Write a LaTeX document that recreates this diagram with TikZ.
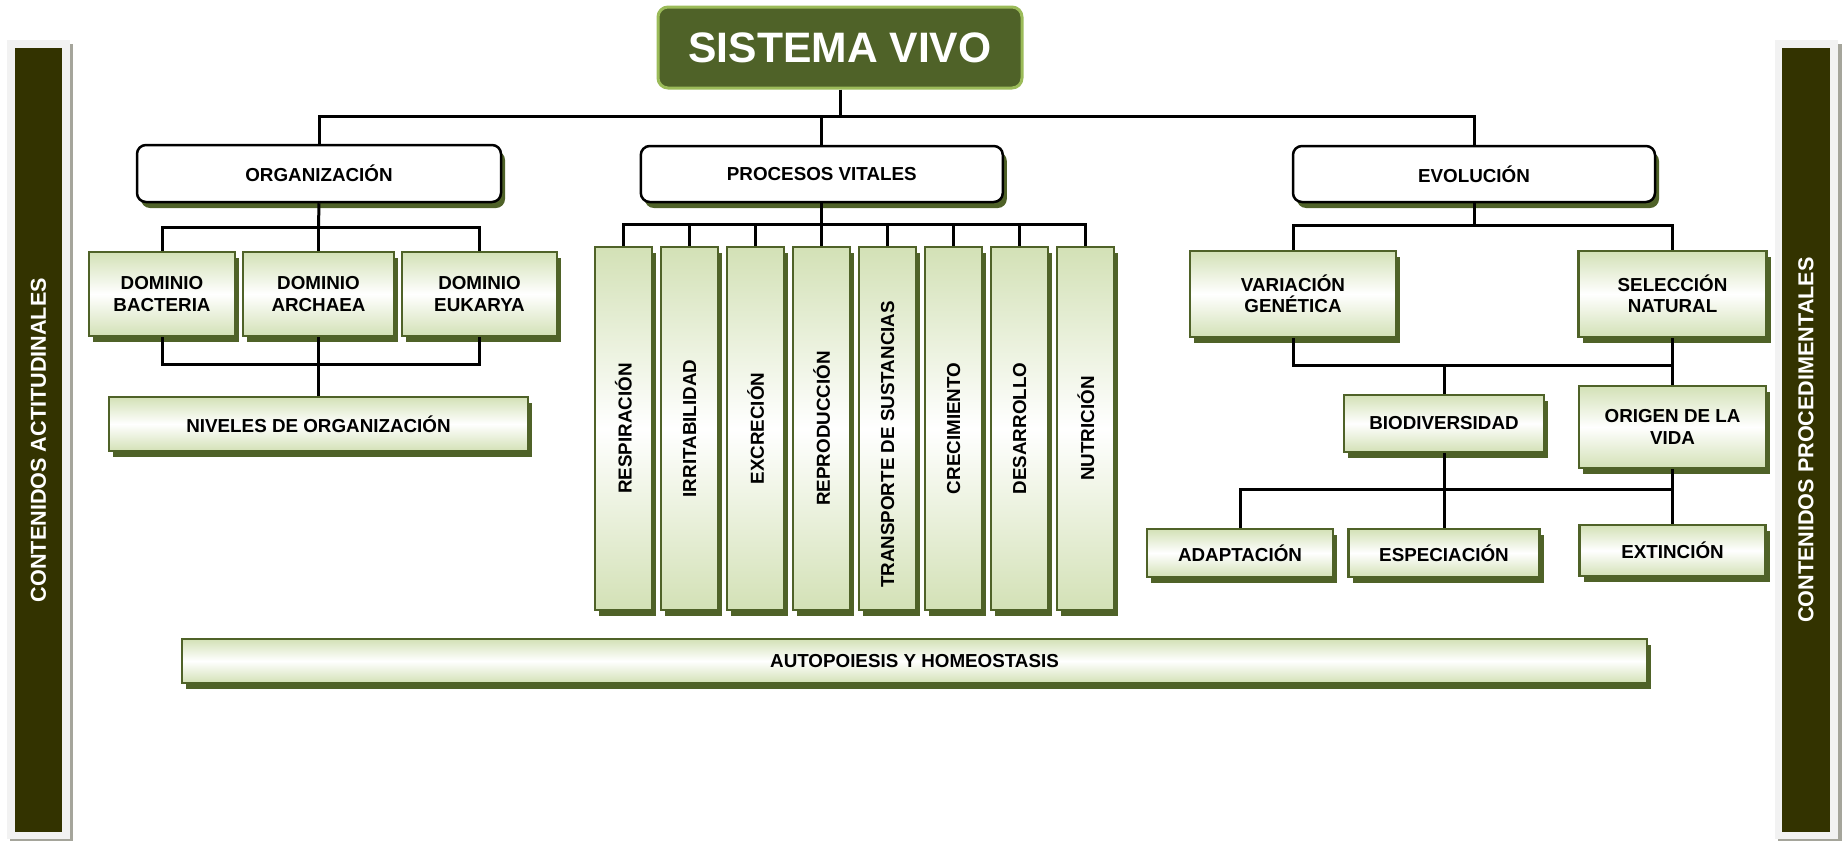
\documentclass[tikz,border=0pt]{standalone}
\usepackage{fontspec}
\setmainfont{Liberation Sans}
\usetikzlibrary{shadows}
\definecolor{dkgreen}{HTML}{4F6228}
\definecolor{ltgreen}{HTML}{D3E1B6}
\definecolor{ttlborder}{HTML}{9BBB59}
\definecolor{barcol}{HTML}{333300}
\definecolor{bargray}{HTML}{F2F2F2}
\definecolor{barshadow}{HTML}{A5A59B}
\newcommand\lbl{\bfseries\fontsize{18.8}{21.5}\selectfont}
\newcommand\sidelbl{\bfseries\fontsize{21.6}{24}\selectfont}
\tikzset{
  sz/.style 2 args={minimum width=#1pt, minimum height=#2pt},
  gbox/.style={draw=dkgreen, line width=2.4pt, top color=ltgreen, bottom color=ltgreen,
    middle color=white, inner sep=0pt, align=center, font=\lbl,
    drop shadow={shadow xshift=4pt, shadow yshift=-6pt, fill=dkgreen, opacity=1}},
  wbox/.style={draw=black, line width=2.5pt, fill=white, rounded corners=9pt,
    inner sep=0pt, align=center, font=\lbl,
    drop shadow={shadow xshift=4pt, shadow yshift=-6pt, fill=dkgreen, opacity=1}},
  vlbl/.style={rotate=90, font=\lbl, inner sep=0pt},
  sidebar/.style={fill=barcol, inner sep=0pt},
  sidetxt/.style={rotate=90, font=\sidelbl, text=white, inner sep=0pt},
  conn/.style={line width=3pt, draw=black},
}
\begin{document}
\begin{tikzpicture}[x=1pt, y=-1pt]
\useasboundingbox (0,0) rectangle (1842,841);

% side bars
\fill[barshadow] (10,44) rectangle (73,841);
\fill[bargray] (7,40) rectangle (70,839);
\node[sidebar, sz={47}{784}] (lbar) at (38.5,440) {};
\node[sidetxt] (ltxt) at (lbar.center) {CONTENIDOS ACTITUDINALES};
\fill[barshadow] (1778,44) rectangle (1842,841);
\fill[bargray] (1775,40) rectangle (1838,839);
\node[sidebar, sz={48}{784}] (rbar) at (1806,440) {};
\node[sidetxt] (rtxt) at (rbar.center) {CONTENIDOS PROCEDIMENTALES};

% title
\node[draw=ttlborder, line width=3pt, fill=dkgreen, rounded corners=10pt, sz={364}{81},
  text=white, font=\bfseries\fontsize{42.6}{45}\selectfont, inner sep=0pt]
  (title) at (840,47.5) {SISTEMA VIVO};

% level 1
\node[wbox, sz={364}{57}] (org) at (319,173.5) {ORGANIZACIÓN};
\node[wbox, sz={362}{56}] (proc) at (821.8,174) {PROCESOS VITALES};
\node[wbox, sz={362}{56}] (evo) at (1474,174) {EVOLUCIÓN};

% organizacion
\node[gbox, sz={146}{84}] (bac) at (162,294) {DOMINIO\\BACTERIA};
\node[gbox, sz={151}{84}] (arc) at (318.5,294) {DOMINIO\\ARCHAEA};
\node[gbox, sz={155}{84}] (euk) at (479.5,294) {DOMINIO\\EUKARYA};
\node[gbox, sz={419}{54}] (niv) at (318.5,424) {NIVELES DE ORGANIZACIÓN};

% procesos vitales
\foreach \i/\t/\dy in {1/RESPIRACIÓN/0,2/IRRITABILIDAD/0,3/EXCRECIÓN/0,4/REPRODUCCIÓN/0,
  5/TRANSPORTE DE SUSTANCIAS/16,6/CRECIMIENTO/0,7/DESARROLLO/0,8/NUTRICIÓN/0}{
  \node[gbox, sz={57}{363}] (r\i) at ({623.5+66.04*(\i-1)},428.5) {};
  \node[vlbl] (t\i) at ([yshift=-\dy pt]r\i.center) {\t};
}

% evolucion
\node[gbox, sz={206}{86}] (var) at (1293,294) {VARIACIÓN\\GENÉTICA};
\node[gbox, sz={188}{86}] (sel) at (1672.5,294) {SELECCIÓN\\NATURAL};
\node[gbox, sz={200}{57}] (bio) at (1444,423.5) {BIODIVERSIDAD};
\node[gbox, sz={187}{82}] (ori) at (1672.5,427) {ORIGEN DE LA\\VIDA};
\node[gbox, sz={186}{48}] (ada) at (1240,553) {ADAPTACIÓN};
\node[gbox, sz={191}{48}] (esp) at (1444,553) {ESPECIACIÓN};
\node[gbox, sz={186}{51}] (ext) at (1672.5,550.5) {EXTINCIÓN};

% bottom bar
\node[gbox, sz={1465}{44}] (auto) at (914.5,661) {AUTOPOIESIS Y HOMEOSTASIS};

% connectors
\coordinate (b1) at (840,116);
\draw[conn] (title.south) -- (b1);
\draw[conn] (org.north) |- (b1) -| (evo.north);
\draw[conn] (proc.north) -- (proc.north |- b1);

\coordinate (b2) at (318.5,227);
\draw[conn] (org.south) -- (b2);
\draw[conn] (bac.north) |- (b2) -| (euk.north);
\draw[conn] (arc.north) -- (b2);
\coordinate (b3) at (318.5,364);
\draw[conn] (bac.south) |- (b3) -| (euk.south);
\draw[conn] (arc.south) -- (niv.north);

\coordinate (b4) at (821.8,224);
\draw[conn] (proc.south) -- (b4);
\draw[conn] (r1.north) |- (b4) -| (r8.north);
\foreach \i in {2,...,7}{\draw[conn] (r\i.north) -- (r\i.north |- b4);}

\coordinate (b5) at (1474,225);
\draw[conn] (evo.south) -- (b5);
\draw[conn] (var.north) |- (b5) -| (sel.north);
\coordinate (b6) at (1444,365);
\draw[conn] (var.south) |- (sel.south |- b6);
\draw[conn] (sel.south) -- (ori.north);
\draw[conn] (b6) -- (bio.north);
\coordinate (b7) at (1444,489);
\draw[conn] (bio.south) -- (esp.north);
\draw[conn] (ada.north) |- (b7) -- (ori.south |- b7);
\draw[conn] (ori.south) -- (ext.north);
\end{tikzpicture}
\end{document}
